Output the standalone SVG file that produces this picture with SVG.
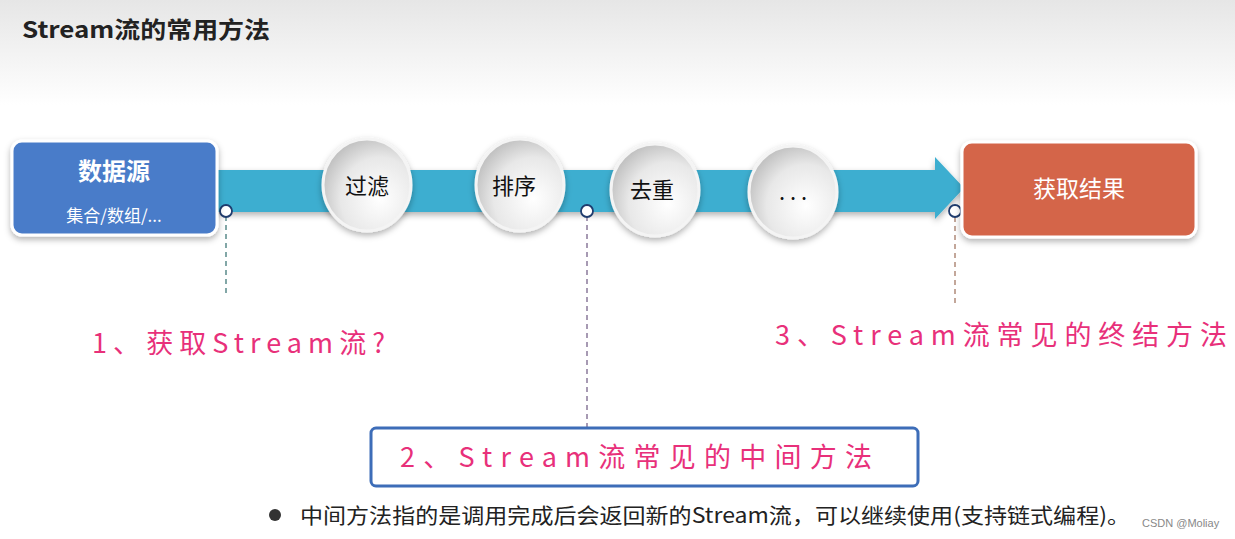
<svg xmlns="http://www.w3.org/2000/svg" width="1235" height="539" viewBox="0 0 1235 539">
<defs>
<linearGradient id="hdr" x1="0" y1="0" x2="0" y2="1"><stop offset="0" stop-color="#e6e6e6"/><stop offset="1" stop-color="#ffffff"/></linearGradient>
<radialGradient id="ball" cx="0.65" cy="0.65" r="0.75"><stop offset="0" stop-color="#ffffff"/><stop offset="0.6" stop-color="#e8e8e8"/><stop offset="1" stop-color="#b8b8b8"/></radialGradient>
<filter id="sh" x="-20%" y="-20%" width="140%" height="150%"><feDropShadow dx="0" dy="3" stdDeviation="3" flood-color="#000" flood-opacity="0.3"/></filter>
</defs>
<style>
.cn{font-family:"Noto Sans CJK SC","Liberation Sans",sans-serif}
.ball{fill:url(#ball);stroke:#f4f4f4;stroke-width:3;filter:url(#sh)}
.bt{font-size:22px;fill:#111;text-anchor:middle}
.hand{font-family:"Noto Sans CJK SC",sans-serif;fill:#e8307a;font-size:27px}
.dash{stroke-dasharray:5 4;stroke-width:1.5;fill:none}
.dot{fill:#fff;stroke:#1f3c6e;stroke-width:1.8}
</style>
<rect width="1235" height="539" fill="#fff"/>
<rect width="1235" height="105" fill="url(#hdr)"/>
<text x="22" y="38" class="cn" font-size="23" font-weight="bold" fill="#222" textLength="248" lengthAdjust="spacingAndGlyphs">Stream流的常用方法</text>
<g id="connectors">
<path d="M215 170 H935 V157 L964 188 L935 219 V212 H215 Z" fill="#3daed0" filter="url(#sh)"/>
<line x1="226" y1="216" x2="226" y2="296" stroke="#5a8a8a" class="dash"/>
<line x1="587" y1="216" x2="587" y2="430" stroke="#8a7a9a" class="dash"/>
<line x1="955" y1="217" x2="955" y2="306" stroke="#b08a7a" class="dash"/>
<circle cx="226" cy="211" r="6" class="dot"/>
<circle cx="587" cy="211" r="6" class="dot"/>
<circle cx="955" cy="211" r="6" class="dot"/>
</g>
<g id="source">
<rect x="12" y="141" width="205" height="94" rx="10" fill="#4a7cc9" stroke="#fff" stroke-width="3" filter="url(#sh)"/>
<text x="114" y="180" class="cn" font-size="24" font-weight="bold" fill="#fff" text-anchor="middle">数据源</text>
<text x="114" y="222" class="cn" font-size="17" fill="#fff" text-anchor="middle">集合/数组/...</text>
</g>
<g id="filter"><ellipse cx="367" cy="185" rx="44" ry="46" class="ball"/><text x="367" y="194" class="cn bt">过滤</text></g>
<g id="sort"><ellipse cx="520" cy="185" rx="44" ry="46" class="ball"/><text x="514" y="194" class="cn bt">排序</text></g>
<g id="distinct"><ellipse cx="655" cy="190" rx="44" ry="46" class="ball"/><text x="652" y="198" class="cn bt">去重</text></g>
<g id="more"><ellipse cx="793" cy="192" rx="44" ry="46" class="ball"/><text x="793" y="200" class="cn bt">. . .</text></g>
<g id="result">
<rect x="962" y="142" width="234" height="95" rx="10" fill="#d4654a" stroke="#fff" stroke-width="3" filter="url(#sh)"/>
<text x="1079" y="197" class="cn" font-size="23" fill="#fff" text-anchor="middle">获取结果</text>
</g>
<text x="92" y="353" class="hand" textLength="293" lengthAdjust="spacing">1、获取Stream流?</text>
<text x="775" y="345" class="hand" textLength="452" lengthAdjust="spacing">3、Stream流常见的终结方法</text>
<g id="middle">
<rect x="371" y="428" width="547" height="58" rx="5" fill="#fff" stroke="#3d6db8" stroke-width="3"/>
<text x="400" y="467" class="hand" textLength="472" lengthAdjust="spacing">2、Stream流常见的中间方法</text>
</g>
<circle cx="275" cy="515" r="6" fill="#333"/>
<text x="300" y="523" class="cn" font-size="21" fill="#222" textLength="830" lengthAdjust="spacingAndGlyphs">中间方法指的是调用完成后会返回新的Stream流，可以继续使用(支持链式编程)。</text>
<text x="1142" y="527" font-family="Liberation Sans,sans-serif" font-size="11" fill="#888">CSDN @Moliay</text>
</svg>
